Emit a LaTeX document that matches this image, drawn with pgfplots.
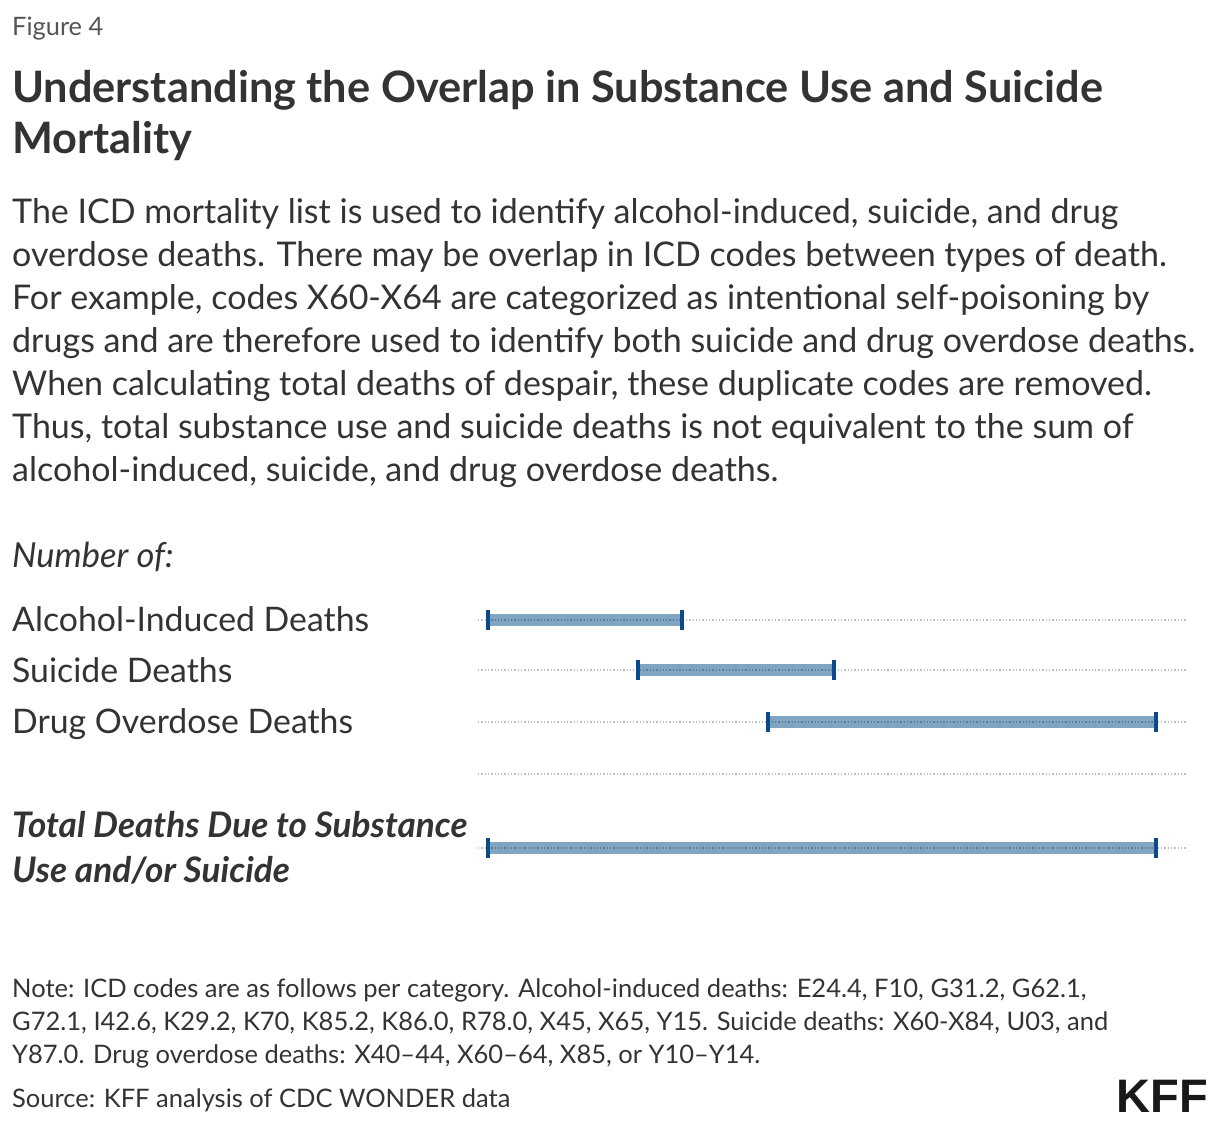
\documentclass[border=0pt]{standalone}
\usepackage{pgfplots}
\pgfplotsset{compat=1.18}
\usepackage{fontspec}
\setmainfont{Lato}
\newfontfamily\logofont{Liberation Sans}

\definecolor{ink}{HTML}{333333}
\definecolor{subtle}{HTML}{555555}
\definecolor{barfill}{HTML}{7FA5C3}
\definecolor{capblue}{HTML}{0B4A8A}

\pgfplotsset{
  rangebar/.style={draw=barfill, line width=12pt, mark=|, mark size=10pt,
    mark options={draw=capblue, line width=4pt}},
}

\begin{document}
\begin{tikzpicture}
% page frame
\path (0pt,0pt) rectangle (1220pt,-1128pt);

% header
\node[anchor=base west, inner sep=0pt, text=subtle, font=\fontsize{25.4}{28}\selectfont] at (12pt,-35pt) {Figure 4};
\begin{scope}[every node/.style={anchor=base west, inner sep=0pt, text=ink, font=\fontsize{43.3}{52}\selectfont\bfseries}]
\node at (12pt,-102pt) {Understanding the Overlap in Substance Use and Suicide};
\node at (12pt,-153pt) {Mortality};
\end{scope}

% description
\begin{scope}[every node/.style={anchor=base west, inner sep=0pt, text=ink, font=\fontsize{34}{43}\selectfont}]
\node at (12pt,-223pt) {The ICD mortality list is used to identify alcohol-induced, suicide, and drug};
\node at (12pt,-266pt) {overdose deaths. There may be overlap in ICD codes between types of death.};
\node at (12pt,-309pt) {For example, codes X60-X64 are categorized as intentional self-poisoning by};
\node at (12pt,-352pt) {drugs and are therefore used to identify both suicide and drug overdose deaths.};
\node at (12pt,-395pt) {When calculating total deaths of despair, these duplicate codes are removed.};
\node at (12pt,-438pt) {Thus, total substance use and suicide deaths is not equivalent to the sum of};
\node at (12pt,-481pt) {alcohol-induced, suicide, and drug overdose deaths.};
\end{scope}

% row labels
\begin{scope}[every node/.style={anchor=base west, inner sep=0pt, text=ink, font=\fontsize{33.8}{40}\selectfont}]
\node[font=\fontsize{34.5}{40}\selectfont\itshape] at (12pt,-567pt) {Number of:};
\node at (12pt,-631pt) {Alcohol-Induced Deaths};
\node at (12pt,-682pt) {Suicide Deaths};
\node at (12pt,-733pt) {Drug Overdose Deaths};
\node[font=\fontsize{35.2}{40}\selectfont\bfseries\itshape] at (12pt,-837pt) {Total Deaths Due to Substance};
\node[font=\fontsize{35.2}{40}\selectfont\bfseries\itshape] at (12pt,-882pt) {Use and/or Suicide};
\end{scope}

% range bars
\begin{axis}[
  at={(478pt,-590pt)}, anchor=north west,
  scale only axis, width=709pt, height=290pt,
  xmin=478, xmax=1187, ymin=590, ymax=880, y dir=reverse,
  axis line style={draw=none},
  xtick=\empty, ytick={620,670,722,774,848}, yticklabel=\empty,
  major tick length=0pt,
  ymajorgrids, axis on top,
  grid style={black, opacity=0.25, line width=1.3pt, dash pattern=on 1.3pt off 2pt},
  clip=false,
]
\addplot[rangebar] coordinates {(488,620) (682,620)};  % alcohol-induced
\addplot[rangebar] coordinates {(638,670) (834,670)};  % suicide
\addplot[rangebar] coordinates {(768,722) (1156,722)}; % drug overdose
\addplot[rangebar] coordinates {(488,848) (1156,848)}; % total
\end{axis}

% notes
\begin{scope}[every node/.style={anchor=base west, inner sep=0pt, text=ink, font=\fontsize{25.5}{33}\selectfont}]
\node at (12pt,-997pt) {Note: ICD codes are as follows per category. Alcohol-induced deaths: E24.4, F10, G31.2, G62.1,};
\node at (12pt,-1030pt) {G72.1, I42.6, K29.2, K70, K85.2, K86.0, R78.0, X45, X65, Y15. Suicide deaths: X60-X84, U03, and};
\node at (12pt,-1063pt) {Y87.0. Drug overdose deaths: X40–44, X60–64, X85, or Y10–Y14.};
\node at (12pt,-1107pt) {Source: KFF analysis of CDC WONDER data};
\end{scope}
\node[anchor=base east, inner sep=0pt, text=black!90, font=\logofont\bfseries\fontsize{47}{47}\selectfont] at (1208pt,-1112pt) {KFF};
\end{tikzpicture}
\end{document}
